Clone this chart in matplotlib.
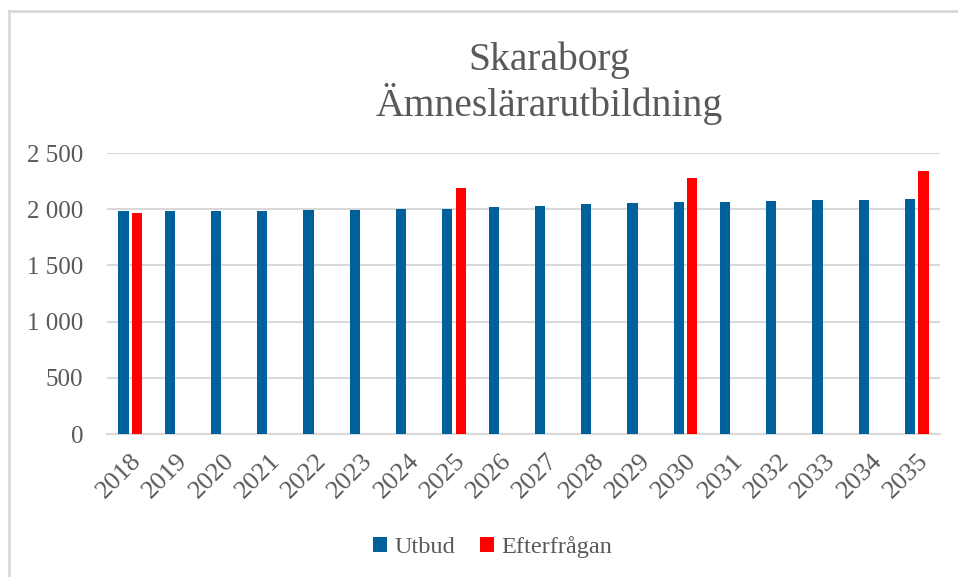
import numpy as np
import matplotlib
matplotlib.use('Agg')
import matplotlib.pyplot as plt
from matplotlib.ticker import FuncFormatter
from matplotlib.lines import Line2D

years = [str(y) for y in range(2018, 2036)]
utbud = [1982, 1982, 1982, 1985, 1990, 1990, 2000, 2005, 2020, 2033,
         2044, 2053, 2062, 2068, 2074, 2080, 2086, 2089]
efterfragan_years = ['2018', '2025', '2030', '2035']
efterfragan = [1970, 2189, 2278, 2344]

blue = '#00619A'
red = '#FF0000'
grey_text = '#595959'
grid_col = '#D9D9D9'

plt.rcParams['font.family'] = ['Liberation Serif', 'DejaVu Serif']

fig = plt.figure(figsize=(9.58, 5.77), dpi=100)
ax = fig.add_axes([0.1117, 0.2478, 0.8695, 0.487])

# Chart border (top and left visible)
fig.add_artist(Line2D([0.009, 0.009], [0, 0.981], transform=fig.transFigure, color=grid_col, lw=2))
fig.add_artist(Line2D([0.009, 1.0], [0.981, 0.981], transform=fig.transFigure, color=grid_col, lw=2))

x = np.arange(len(years))
w = 0.22
off = 0.145
ax.bar(x - off, utbud, width=w, color=blue, label='Utbud', zorder=3)
ex = [years.index(y) for y in efterfragan_years]
ax.bar(np.array(ex) + off, efterfragan, width=w, color=red, label='Efterfrågan', zorder=3)

ax.set_xlim(-0.5, len(years) - 0.5)
ax.set_ylim(0, 2500)
ax.set_yticks(np.arange(0, 2501, 500))
ax.yaxis.set_major_formatter(FuncFormatter(lambda v, p: f'{int(v):,}'.replace(',', ' ')))
ax.set_xticks(x)
ax.set_xticklabels(years, rotation=45, ha='right', rotation_mode='anchor')

ax.grid(axis='y', color=grid_col, lw=1.5, zorder=0)
for s in ['top', 'right', 'left']:
    ax.spines[s].set_visible(False)
ax.spines['bottom'].set_color(grid_col)
ax.spines['bottom'].set_linewidth(1.5)
ax.tick_params(axis='both', length=0, colors=grey_text)
ax.tick_params(axis='y', pad=17, labelsize=18)
ax.tick_params(axis='x', pad=11, labelsize=19)

fig.text(0.573, 0.895, 'Skaraborg', ha='center', va='center', fontsize=28.5, color=grey_text)
fig.text(0.573, 0.82, 'Ämneslärarutbildning', ha='center', va='center', fontsize=28.5, color=grey_text)

fig.legend(loc='center', bbox_to_anchor=(0.514, 0.052), ncol=2, frameon=False,
           fontsize=17.5, labelcolor=grey_text, handlelength=0.6, handleheight=0.6,
           handletextpad=0.3, columnspacing=1.0)

fig.savefig('out.png')
